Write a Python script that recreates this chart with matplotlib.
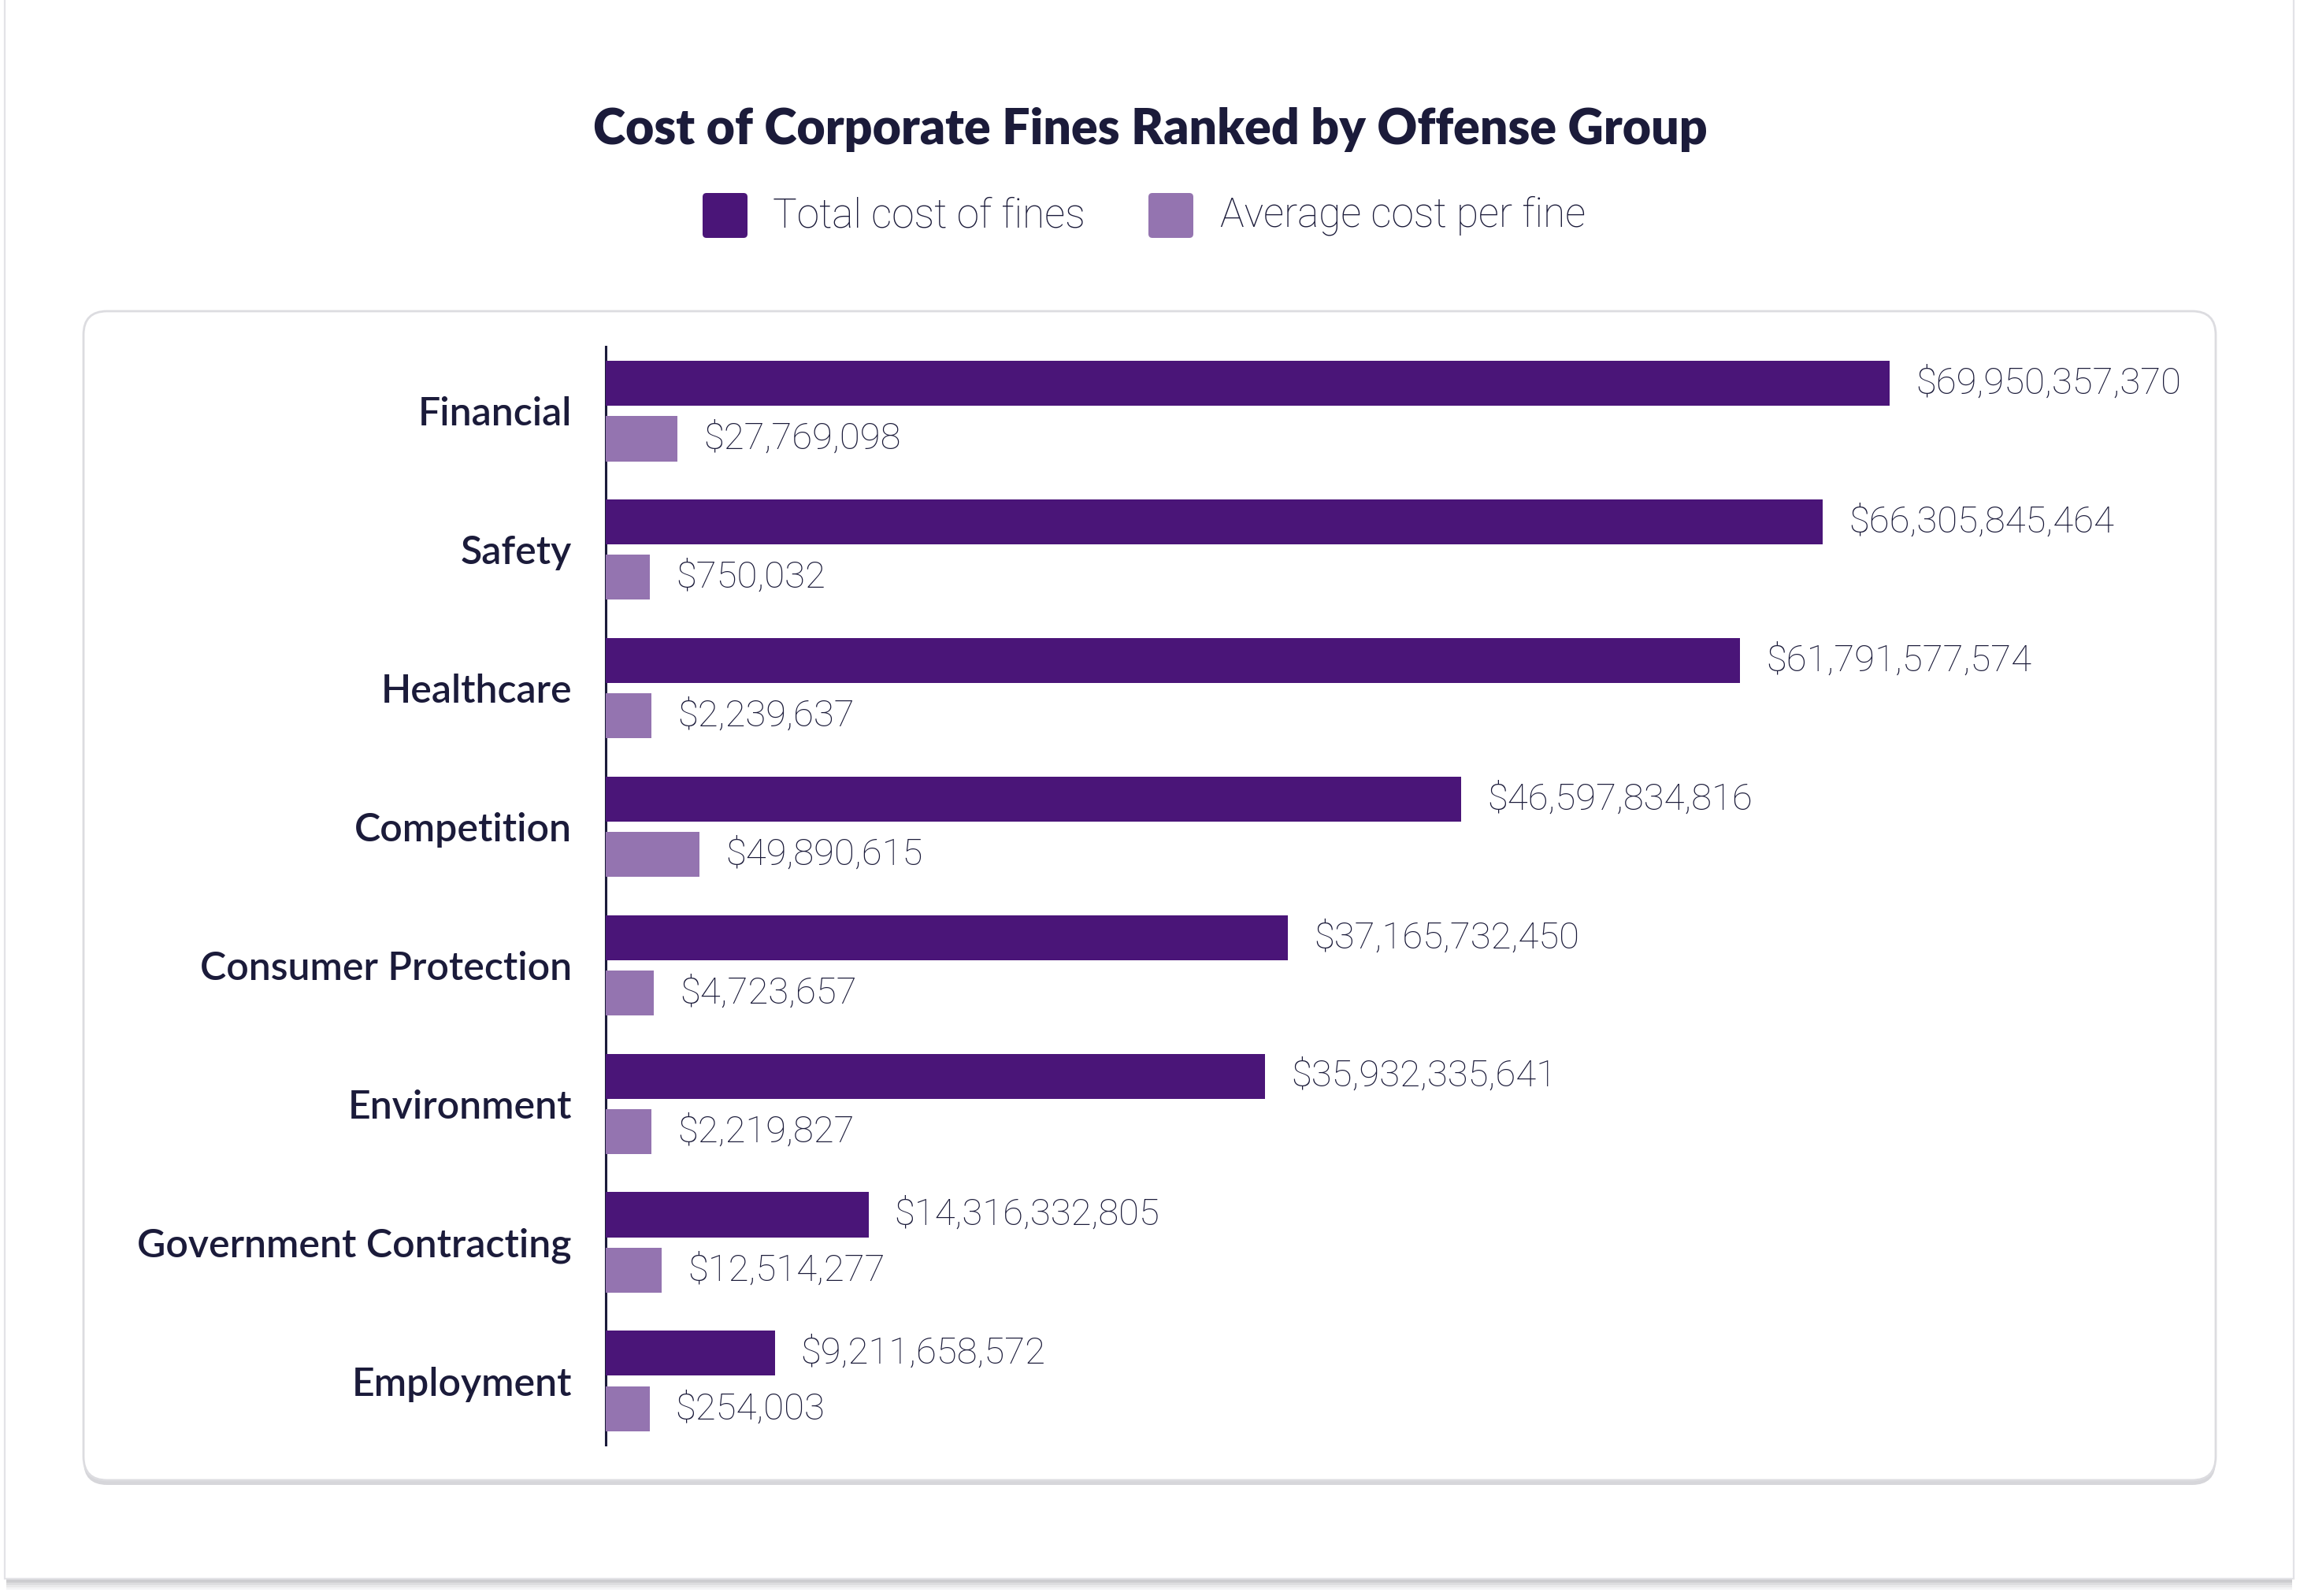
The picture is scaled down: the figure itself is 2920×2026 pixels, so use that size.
import matplotlib

matplotlib.use("Agg")

import matplotlib.pyplot as plt  # noqa: E402
from matplotlib.patches import FancyBboxPatch, Rectangle  # noqa: E402

categories = [
    "Financial",
    "Safety",
    "Healthcare",
    "Competition",
    "Consumer Protection",
    "Environment",
    "Government Contracting",
    "Employment",
]
total_cost = [
    69950357370,
    66305845464,
    61791577574,
    46597834816,
    37165732450,
    35932335641,
    14316332805,
    9211658572,
]
avg_cost = [27769098, 750032, 2239637, 49890615, 4723657, 2219827, 12514277, 254003]

TITLE = "Cost of Corporate Fines Ranked by Offense Group"
LEGEND_LABELS = ["Total cost of fines", "Average cost per fine"]

DARK = "#4a1578"
LIGHT = "#9474b0"
TEXT = "#1b1b3a"
FONT = "Lato"
THIN_FONT = "Roboto"

W, H, DPI = 2920, 2026, 200
fig = plt.figure(figsize=(W / DPI, H / DPI), dpi=DPI)

# background layer in pixel coordinates
bg = fig.add_axes([0, 0, 1, 1])
bg.set_xlim(0, W)
bg.set_ylim(H, 0)
bg.axis("off")
for i, a in enumerate([0.10, 0.12, 0.16, 0.22]):
    bg.add_patch(Rectangle((8, 0), W - 18, 2008 + 10 - i * 3, fc="#9a9aa0", ec="none", alpha=a, zorder=0))
bg.add_patch(Rectangle((6, -4), W - 14, 2008, fc="white", ec="#e3e3e7", lw=0.8, zorder=1))
bg.add_patch(FancyBboxPatch((106, 397), 2707, 1488, boxstyle="round,pad=0,rounding_size=30",
                            fc="#d6d6da", ec="none", zorder=2))
bg.add_patch(FancyBboxPatch((106, 395), 2707, 1484, boxstyle="round,pad=0,rounding_size=30",
                            fc="white", ec="#dcdce0", lw=1.0, zorder=3))

bg.text(W / 2, 164, TITLE, ha="center", va="center", fontsize=22.5, fontweight="heavy",
        color=TEXT, family=FONT, zorder=5)

legend_x = [(892, 981), (1458, 1549)]
for (sx, tx), col, lab in zip(legend_x, [DARK, LIGHT], LEGEND_LABELS):
    bg.add_patch(FancyBboxPatch((sx, 245), 57, 57, boxstyle="round,pad=0,rounding_size=5",
                                fc=col, ec="none", zorder=5))
    bg.text(tx, 274, lab, ha="left", va="center", fontsize=18.5, fontweight="light",
            color=TEXT, family=THIN_FONT, zorder=5)

# chart axes
left_px, right_px, top_px, bot_px = 769, 2700, 440, 1834
ax = fig.add_axes([left_px / W, 1 - bot_px / H, (right_px - left_px) / W, (bot_px - top_px) / H])
ax.set_facecolor("none")
ax.set_zorder(10)

axes_w = right_px - left_px
px_per_b = 23.3
ypos = list(range(len(categories)))
bar_h = 0.325

ax.barh([y - 0.2 for y in ypos], total_cost, height=bar_h, color=DARK, zorder=3)
ax.set_xlim(0, axes_w / px_per_b * 1e9)
ax.set_ylim(len(categories) - 0.54, -0.465)

for y, v in zip(ypos, total_cost):
    ax.annotate(f"${v:,.0f}", (v, y - 0.2), xytext=(11.9, 0), textcoords="offset points",
                ha="left", va="center", fontsize=17, fontweight="light", color=TEXT,
                family=THIN_FONT)

# average values on their own scale with a small stub so tiny values stay visible
ax2 = ax.twiny()
px_per_m = 1.284
stub = 55.3 / px_per_m * 1e6
ax2.set_xlim(-stub, axes_w / px_per_m * 1e6 - stub)
ax2.barh([y + 0.2 for y in ypos], [v + stub for v in avg_cost], left=-stub, height=bar_h,
         color=LIGHT, zorder=3)
for y, v in zip(ypos, avg_cost):
    ax2.annotate(f"${v:,.0f}", (v, y + 0.2), xytext=(11.9, 0), textcoords="offset points",
                 ha="left", va="center", fontsize=17, fontweight="light", color=TEXT,
                 family=THIN_FONT)

for a in (ax, ax2):
    for side in ("top", "right", "bottom"):
        a.spines[side].set_visible(False)
    a.set_xticks([])
ax2.spines["left"].set_visible(False)
ax.spines["left"].set_color(TEXT)
ax.spines["left"].set_linewidth(1.1)
ax.set_yticks(ypos)
ax.set_yticklabels(categories, fontsize=18, fontweight="semibold", color=TEXT, family=FONT)
ax.tick_params(axis="y", length=0, pad=15.5)

fig.savefig("out.png", dpi=DPI)
